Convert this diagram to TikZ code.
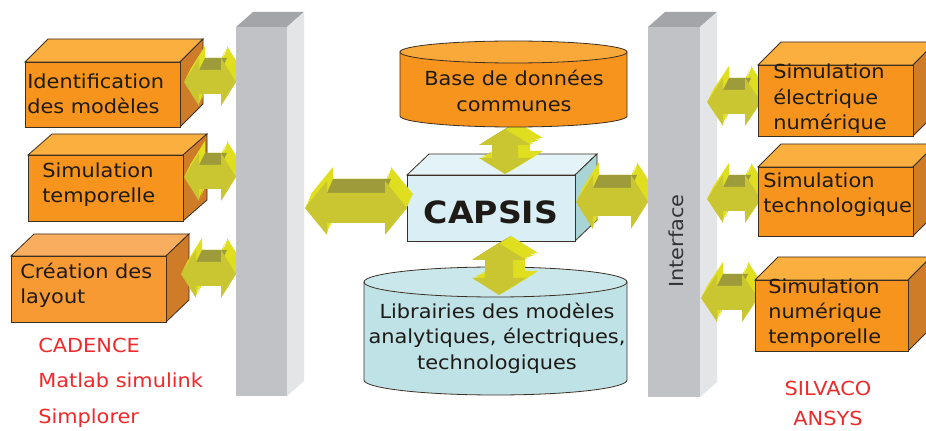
\documentclass[tikz,border=0pt]{standalone}
\usepackage{fontspec}
\setmainfont{DejaVu Sans}[FakeStretch=1.08]
\usetikzlibrary{calc}
\definecolor{orF}{HTML}{F7941D}
\definecolor{orT}{HTML}{FBAF3F}
\definecolor{orS}{HTML}{CF7C29}
\definecolor{orF2}{HTML}{F79A33}
\definecolor{orT2}{HTML}{F9AD5E}
\definecolor{edgec}{HTML}{3C2F24}
\definecolor{cyF}{HTML}{D9EFF5}
\definecolor{cyT}{HTML}{E3F3F7}
\definecolor{cyS}{HTML}{A8D4D6}
\definecolor{libB}{HTML}{BEE2E6}
\definecolor{libT}{HTML}{CAE8EC}
\definecolor{baseT}{HTML}{F9A83A}
\definecolor{pilF}{HTML}{C1C2C6}
\definecolor{pilT}{HTML}{A4A5A9}
\definecolor{pilS}{HTML}{E4E5E7}
\definecolor{arrF}{HTML}{C9C632}
\definecolor{arrB}{HTML}{DFDF1F}
\definecolor{arrD}{HTML}{9E9C3A}
\definecolor{redc}{HTML}{EE2A2A}
\definecolor{txtc}{HTML}{1E1A16}
\definecolor{intc}{HTML}{333333}
\tikzset{
  cubeedge/.style={draw=edgec, line width=0.6pt},
  lbl/.style={font=\fontsize{14.5}{19}\selectfont, align=left, inner sep=0pt, text=txtc},
  redlbl/.style={font=\fontsize{14.5}{19}\selectfont, inner sep=0pt, text=redc},
  bigl/.style={font=\fontsize{23}{26}\selectfont\bfseries, inner sep=0pt, text=txtc}
}
% x1 y1 x2 y2 dx dy front top side
\newcommand\cubebox[9]{%
  \path[fill=#8, cubeedge] (#1,#2) -- (#1+#5,#2+#6) -- (#3+#5,#2+#6) -- (#3,#2) -- cycle;
  \path[fill=#9, cubeedge] (#3,#2) -- (#3+#5,#2+#6) -- (#3+#5,#4+#6) -- (#3,#4) -- cycle;
  \path[fill=#7, cubeedge] (#1,#2) rectangle (#3,#4);
}
% horizontal double arrow polygon: A B H s h shift
\newcommand\hpoly[6]{($(#1)+#6$) -- ($(#1)+#6+(#5,-#3)$) -- ($(#1)+#6+(#5,-#4)$) -- ($(#2)+#6+(-#5,-#4)$) -- ($(#2)+#6+(-#5,-#3)$) -- ($(#2)+#6$) -- ($(#2)+#6+(-#5,#3)$) -- ($(#2)+#6+(-#5,#4)$) -- ($(#1)+#6+(#5,#4)$) -- ($(#1)+#6+(#5,#3)$) -- cycle}
\newcommand\harrow[7]{%
  \foreach \t in {1,0.8,0.6,0.4,0.2}{\path[fill=arrB] \hpoly{#1}{#2}{#3}{#4}{#5}{(#6*\t,#7*\t)};}
  \path[fill=arrD] ($(#1)+(#5,-#4)$) -- ($(#2)+(-#5,-#4)$) -- ($(#2)+(-#5+#6,-#4+#7)$) -- ($(#1)+(#5+#6,-#4+#7)$) -- cycle;
  \path[fill=arrF] \hpoly{#1}{#2}{#3}{#4}{#5}{(0,0)};
}
% vertical double arrow polygon: A(top) B(bottom) H s h shift
\newcommand\vpoly[6]{($(#1)+#6$) -- ($(#1)+#6+(#3,#5)$) -- ($(#1)+#6+(#4,#5)$) -- ($(#2)+#6+(#4,-#5)$) -- ($(#2)+#6+(#3,-#5)$) -- ($(#2)+#6$) -- ($(#2)+#6+(-#3,-#5)$) -- ($(#2)+#6+(-#4,-#5)$) -- ($(#1)+#6+(-#4,#5)$) -- ($(#1)+#6+(-#3,#5)$) -- cycle}
\newcommand\varrow[7]{%
  \foreach \t in {1,0.8,0.6,0.4,0.2}{\path[fill=arrB] \vpoly{#1}{#2}{#3}{#4}{#5}{(#6*\t,#7*\t)};}
  \path[fill=arrD] ($(#1)+(-#3,#5)$) -- ($(#1)$) -- ($(#1)+(#6,#7)$) -- ($(#1)+(-#3+#6,#5+#7)$) -- cycle;
  \path[fill=arrF] \vpoly{#1}{#2}{#3}{#4}{#5}{(0,0)};
}
\begin{document}
\begin{tikzpicture}[x=0.75pt,y=-0.75pt]
\useasboundingbox (0,0) rectangle (926,431);
\fill[white] (0,0) rectangle (926,431);

% ---- left boxes
\cubebox{25}{62}{180}{127}{23}{-23}{orF}{orT}{orS}
\cubebox{28}{155}{183}{221}{24}{-21}{orF}{orT}{orS}
\cubebox{11}{256}{166}{322}{23}{-22}{orF2}{orT2}{orS}
\node[lbl, anchor=west] (tident) at (27,94) {Identification\\des modèles};
\node[lbl, anchor=west] (tsimt) at (42,185) {Simulation\\temporelle};
\node[lbl, anchor=west] (tcrea) at (20,285) {Création des\\layout};

% ---- left arrows
\coordinate (la1) at (184,82);  \coordinate (lb1) at (236,82);
\coordinate (la2) at (184,177); \coordinate (lb2) at (236,177);
\coordinate (la3) at (181,274); \coordinate (lb3) at (236,274);
\harrow{la1}{lb1}{24}{12}{15}{6}{-12}
\harrow{la2}{lb2}{24}{12}{15}{6}{-12}
\harrow{la3}{lb3}{24}{12}{15}{6}{-12}

% ---- left pillar
\begin{scope}[cubeedge/.style={}]
\cubebox{236}{27}{287}{396}{17}{-15}{pilF}{pilT}{pilS}
\end{scope}

% ---- CAPSIS
\cubebox{407}{175}{575}{241}{22}{-21}{cyF}{cyT}{cyS}
\node[bigl] (capsis) at (491,212) {CAPSIS};

% ---- library cylinder
\path[fill=libB, cubeedge] (364,282) -- (364,380) arc[start angle=180, end angle=0, x radius=131.5, y radius=15] -- (627,282) -- cycle;
\path[fill=libT, cubeedge] (495.5,282) ellipse [x radius=131.5, y radius=15];
\node[lbl, align=center] (tlib) at (497,338) {Librairies des modèles\\analytiques, électriques,\\technologiques};

% ---- centre arrows
\coordinate (ca1) at (305,208); \coordinate (cb1) at (407,208);
\harrow{ca1}{cb1}{27}{15}{22}{6}{-14}
\coordinate (ca2) at (576,202); \coordinate (cb2) at (648,202);
\harrow{ca2}{cb2}{27}{14}{17}{6}{-13}
\coordinate (va1) at (505,129); \coordinate (vb1) at (505,174);
\varrow{va1}{vb1}{26}{13}{16}{12}{-7}
\coordinate (va2) at (499,243); \coordinate (vb2) at (499,295);
\varrow{va2}{vb2}{27}{14}{17}{12}{-7}

% ---- base cylinder
\path[fill=orF, cubeedge] (400,52) -- (400,116) arc[start angle=180, end angle=0, x radius=113.5, y radius=11] -- (627,52) -- cycle;
\path[fill=baseT, cubeedge] (513.5,52) ellipse [x radius=113.5, y radius=11];
\node[lbl, align=center] (tbase) at (514,91) {Base de données\\communes};

% ---- right pillar
\begin{scope}[cubeedge/.style={}]
\cubebox{648}{27}{700}{397}{17}{-15}{pilF}{pilT}{pilS}
\end{scope}
\node[lbl, rotate=90, text=intc] (tint) at (676,241) {Interface};

% ---- right arrows
\coordinate (ra1) at (707,102); \coordinate (rb1) at (761,102);
\coordinate (ra2) at (707,199); \coordinate (rb2) at (761,199);
\coordinate (ra3) at (701,298); \coordinate (rb3) at (758,298);
\harrow{ra1}{rb1}{24}{12}{16}{6}{-12}
\harrow{ra2}{rb2}{24}{12}{16}{6}{-12}
\harrow{ra3}{rb3}{24}{12}{16}{6}{-12}

% ---- right boxes
\cubebox{758}{65}{913}{136}{23}{-23}{orF}{orT}{orS}
\cubebox{758}{167}{913}{236}{23}{-23}{orF}{orT}{orS}
\cubebox{755}{280}{908}{351}{23}{-23}{orF}{orT}{orS}
\node[lbl, anchor=west] (tr1) at (773,99) {Simulation\\électrique\\numérique};
\node[lbl, anchor=west] (tr2) at (763,195) {Simulation\\technologique};
\node[lbl, anchor=west] (tr3) at (768,313) {Simulation\\numérique\\temporelle};

% ---- tool names
\node[redlbl, anchor=west] (cad) at (38,345) {CADENCE};
\node[redlbl, anchor=west] (mat) at (38,380) {Matlab simulink};
\node[redlbl, anchor=west] (simp) at (38,418) {Simplorer};
\node[redlbl] (silv) at (828,388) {SILVACO};
\node[redlbl] (ans) at (828,418) {ANSYS};
\end{tikzpicture}
\end{document}
